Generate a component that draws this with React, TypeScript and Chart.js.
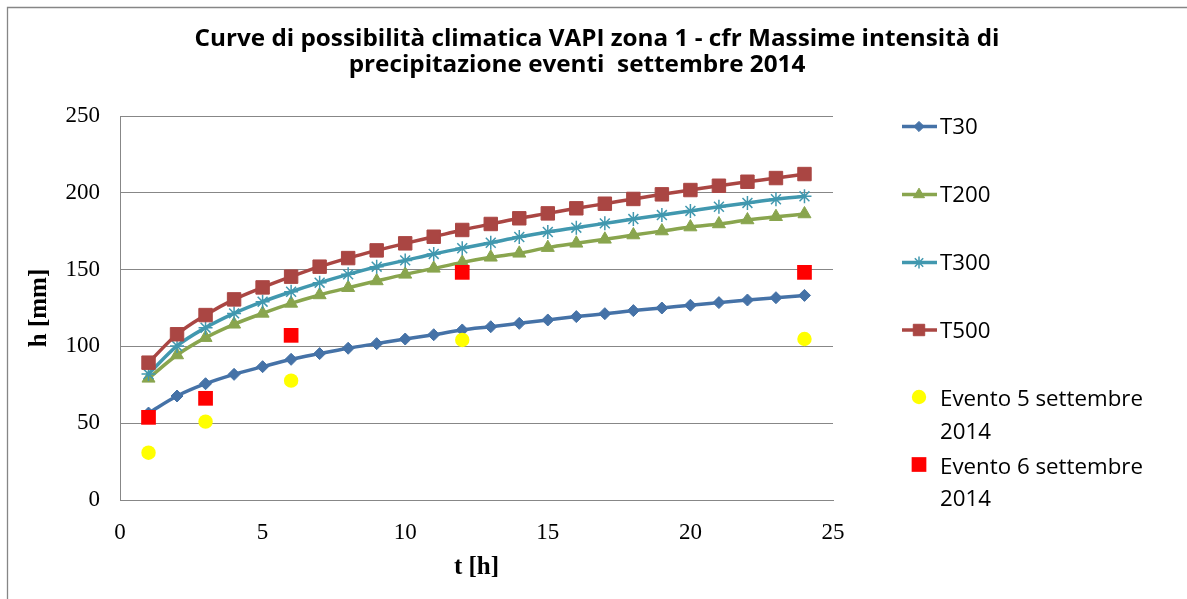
import React, { useEffect, useRef } from 'react';
import { Chart, registerables } from 'chart.js';
import { drawPoint } from 'chart.js/helpers';

Chart.register(...registerables);

// Durations (hours) at which the VAPI curves are evaluated
const hours = [1, 2, 3, 4, 5, 6, 7, 8, 9, 10, 11, 12, 13, 14, 15, 16, 17, 18, 19, 20, 21, 22, 23, 24];

// Rainfall depth h [mm] for each return period
const t30 = [56.6, 67.7, 75.7, 81.8, 86.8, 91.6, 95.3, 98.8, 101.8, 104.8, 107.6, 110.7, 112.8, 115.0, 117.2, 119.4, 121.3, 123.3, 125.0, 126.8, 128.5, 130.2, 131.7, 133.2];
const t200 = [79.2, 94.4, 105.7, 114.4, 121.5, 128.0, 133.5, 138.2, 142.6, 146.9, 150.8, 154.7, 158.0, 160.6, 164.3, 167.1, 169.7, 172.5, 175.1, 177.7, 179.7, 182.3, 184.4, 186.2];
const t300 = [82.0, 100.3, 112.2, 121.5, 129.1, 135.6, 141.5, 146.9, 151.9, 156.0, 160.2, 163.9, 167.5, 171.2, 174.5, 177.3, 180.1, 182.9, 185.5, 188.2, 190.9, 193.4, 195.8, 197.7];
const t500 = [89.4, 107.9, 120.4, 130.6, 138.4, 145.4, 151.9, 157.5, 162.5, 167.1, 171.4, 175.8, 179.7, 183.4, 186.6, 189.9, 192.9, 196.0, 199.0, 201.8, 204.6, 207.2, 209.6, 212.2];

// Observed maximum depths of the September 2014 events
const eventHours = [1, 3, 6, 12, 24];
const evento5 = [30.8, 51.0, 77.7, 104.2, 104.8];
const evento6 = [53.8, 66.2, 107.2, 148.2, 148.2];

// Axis ranges / ticks
const xMax = 25;
const xStep = 5;
const yMax = 250;
const yStep = 50;

const titleLines = [
  'Curve di possibilità climatica VAPI zona 1 - cfr Massime intensità di',
  'precipitazione eventi  settembre 2014',
];
const xTitle = 't [h]';
const yTitle = 'h [mm]';

const curveStyles = [
  { label: 'T30', values: t30, color: '#4572A7', pointStyle: 'rectRot', radius: 6, borderWidth: 1 },
  { label: 'T200', values: t200, color: '#89A54E', pointStyle: 'triangle', radius: 7.5, borderWidth: 1 },
  { label: 'T300', values: t300, color: '#4198AF', pointStyle: 'star', radius: 7, borderWidth: 1.5 },
  { label: 'T500', values: t500, color: '#AA4643', pointStyle: 'rect', radius: 9.5, borderWidth: 1 },
];

const eventStyles = [
  { label: ['Evento 5 settembre', '2014'], values: evento5, color: '#FFFF00', pointStyle: 'circle', radius: 7.2 },
  { label: ['Evento 6 settembre', '2014'], values: evento6, color: '#FF0000', pointStyle: 'rect', radius: 10.4 },
];

const W = 1187;
const H = 599;
const GRID = '#878787';

function toPoints(xs: number[], ys: number[]) {
  return xs.map((x, i) => ({ x, y: ys[i] }));
}

// Title, outer frame and right-hand legend
const decorations = {
  id: 'decorations',
  beforeDraw(chart: any) {
    const ctx = chart.ctx as CanvasRenderingContext2D;
    ctx.save();
    ctx.fillStyle = '#ffffff';
    ctx.fillRect(0, 0, chart.width, chart.height);
    ctx.strokeStyle = '#868686';
    ctx.lineWidth = 1.3;
    ctx.beginPath();
    ctx.moveTo(7.5, chart.height);
    ctx.lineTo(7.5, 7.5);
    ctx.lineTo(chart.width, 7.5);
    ctx.stroke();
    ctx.restore();
  },
  afterDraw(chart: any) {
    const ctx = chart.ctx as CanvasRenderingContext2D;
    ctx.save();

    // Title: two centred bold lines, condensed
    ctx.fillStyle = '#000000';
    ctx.font = 'bold 24px "Open Sans"';
    ctx.textBaseline = 'alphabetic';
    ctx.textAlign = 'center';
    const titleScale = 805 / ctx.measureText(titleLines[0]).width;
    const titleCenters = [[597, 46], [577, 72]];
    titleLines.forEach((line, i) => {
      ctx.save();
      ctx.translate(titleCenters[i][0], titleCenters[i][1]);
      ctx.scale(titleScale, 1);
      ctx.fillText(line, 0, 0);
      ctx.restore();
    });

    // Legend
    ctx.font = '22px "Open Sans"';
    ctx.textAlign = 'left';
    const legendScale = 203 / ctx.measureText('Evento 5 settembre').width;
    const text = (s: string, x: number, y: number) => {
      ctx.save();
      ctx.translate(x, y);
      ctx.scale(legendScale, 1);
      ctx.fillStyle = '#000000';
      ctx.fillText(s, 0, 0);
      ctx.restore();
    };
    const textX = 940;
    const markX = 919;
    const curveRows = [126.5, 194.5, 262.5, 330];
    const curveBaselines = [133.8, 201.8, 269.8, 337.5];
    curveStyles.forEach((s, i) => {
      const y = curveRows[i];
      ctx.strokeStyle = s.color;
      ctx.fillStyle = s.color;
      ctx.lineWidth = 3.5;
      ctx.beginPath();
      ctx.moveTo(902, y);
      ctx.lineTo(937, y);
      ctx.stroke();
      ctx.lineWidth = s.borderWidth;
      drawPoint(ctx, { pointStyle: s.pointStyle, radius: s.radius * 0.85, rotation: 0, borderWidth: s.borderWidth }, markX, y);
      text(s.label, textX, curveBaselines[i]);
    });

    const eventRows = [397, 464.5];
    const eventBaselines = [[406, 438.5], [473.5, 506]];
    eventStyles.forEach((s, i) => {
      ctx.fillStyle = s.color;
      ctx.strokeStyle = s.color;
      ctx.lineWidth = 0;
      drawPoint(ctx, { pointStyle: s.pointStyle, radius: s.radius, rotation: 0, borderWidth: 0 }, markX, eventRows[i]);
      s.label.forEach((line, j) => text(line, textX, eventBaselines[i][j]));
    });

    ctx.restore();
  },
};

export default function App() {
  const canvasRef = useRef<HTMLCanvasElement | null>(null);

  useEffect(() => {
    const canvas = canvasRef.current;
    if (!canvas) return;

    const curveSets = curveStyles.map((s, i) => ({
      label: s.label,
      data: toPoints(hours, s.values),
      showLine: true,
      borderColor: s.color,
      backgroundColor: s.color,
      borderWidth: 3.5,
      cubicInterpolationMode: 'monotone' as const,
      pointStyle: s.pointStyle,
      pointRadius: s.radius,
      pointBorderWidth: s.borderWidth,
      pointBackgroundColor: s.color,
      pointBorderColor: s.color,
      order: 5 - i,
    }));

    const eventSets = eventStyles.map((s, i) => ({
      label: s.label.join(' '),
      data: toPoints(eventHours, s.values),
      showLine: false,
      pointStyle: s.pointStyle,
      pointRadius: s.radius,
      pointBorderWidth: 0,
      pointBackgroundColor: s.color,
      pointBorderColor: s.color,
      backgroundColor: s.color,
      borderColor: s.color,
      order: 1 - i,
    }));

    const chart = new Chart(canvas, {
      type: 'scatter',
      data: { datasets: [...curveSets, ...eventSets] as any },
      options: {
        animation: false,
        responsive: false,
        devicePixelRatio: 1,
        layout: { padding: { top: 116, right: 354, bottom: 0, left: 0 } },
        plugins: {
          legend: { display: false },
          tooltip: { enabled: false },
          title: { display: false },
        },
        scales: {
          x: {
            type: 'linear',
            min: 0,
            max: xMax,
            afterFit: (scale: any) => { scale.height = 99; },
            ticks: {
              stepSize: xStep,
              padding: 19,
              color: '#000000',
              font: { family: '"Liberation Serif"', size: 23 },
            },
            grid: { display: false, drawTicks: false },
            border: { display: true, color: GRID, width: 1 },
            title: {
              display: true,
              text: xTitle,
              color: '#000000',
              font: { family: '"Liberation Serif"', size: 25, weight: 'bold' },
              padding: { top: 0, bottom: 16 },
            },
          },
          y: {
            type: 'linear',
            min: 0,
            max: yMax,
            afterFit: (scale: any) => { scale.width = 120; },
            ticks: {
              stepSize: yStep,
              padding: 20,
              color: '#000000',
              font: { family: '"Liberation Serif"', size: 23 },
            },
            grid: { display: true, color: GRID, lineWidth: 1, drawTicks: false },
            border: { display: true, color: GRID, width: 1 },
            title: {
              display: true,
              text: yTitle,
              color: '#000000',
              font: { family: '"Liberation Serif"', size: 25, weight: 'bold' },
              padding: { top: 25, bottom: 0 },
            },
          },
        },
      },
      plugins: [decorations],
    });

    return () => chart.destroy();
  }, []);

  return (
    <div style={{ position: 'absolute', left: 0, top: 0, width: W, height: H }}>
      <canvas ref={canvasRef} width={W} height={H} style={{ display: 'block', width: W, height: H }} />
    </div>
  );
}
